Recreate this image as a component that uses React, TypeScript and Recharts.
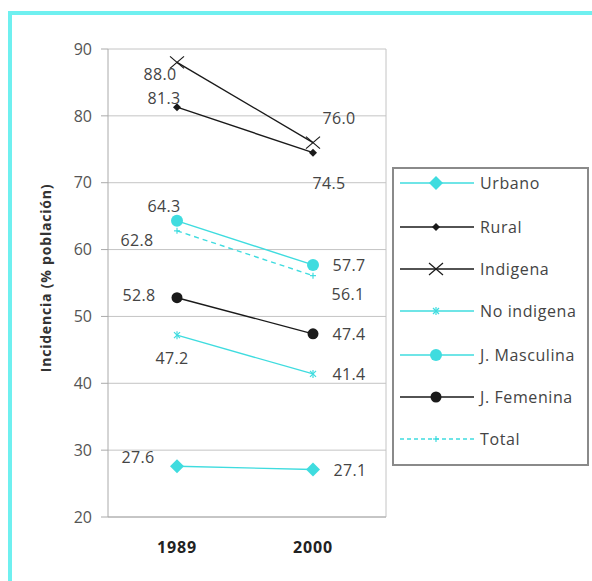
import { LineChart, Line, XAxis, YAxis, CartesianGrid, LabelList } from "recharts"

const years = ["1989", "2000"]
const urbano = [27.6, 27.1]
const rural = [81.3, 74.5]
const indigena = [88.0, 76.0]
const noIndigena = [47.2, 41.4]
const jMasculina = [64.3, 57.7]
const jFemenina = [52.8, 47.4]
const total = [62.8, 56.1]
const yTicks = [20, 30, 40, 50, 60, 70, 80, 90]

const CYAN = "#3fdcdf"
const DARK = "#1a1a1a"
const FONT = "'Open Sans', sans-serif"

const data = years.map((year, i) => ({
  year,
  urbano: urbano[i],
  rural: rural[i],
  indigena: indigena[i],
  noIndigena: noIndigena[i],
  jMasculina: jMasculina[i],
  jFemenina: jFemenina[i],
  total: total[i],
}))

type Marker = "bigDiamond" | "smallDiamond" | "cross" | "star" | "circle" | "bigCircle" | "plus"

// label offsets (dx, dy) for 1989 and 2000, relative to the point
const series: {
  key: string
  name: string
  color: string
  marker: Marker
  dashed?: boolean
  offsets: [number, number][]
}[] = [
  { key: "urbano", name: "Urbano", color: CYAN, marker: "bigDiamond", offsets: [[-39, -9], [37, 0]] },
  { key: "rural", name: "Rural", color: DARK, marker: "smallDiamond", offsets: [[-13, -9], [16, 30]] },
  { key: "indigena", name: "Indigena", color: DARK, marker: "cross", offsets: [[-17, 12], [26, -25]] },
  { key: "noIndigena", name: "No indigena", color: CYAN, marker: "star", offsets: [[-5, 23], [36, 0]] },
  { key: "jMasculina", name: "J. Masculina", color: CYAN, marker: "circle", offsets: [[-13, -15], [36, 0]] },
  { key: "jFemenina", name: "J. Femenina", color: DARK, marker: "bigCircle", offsets: [[-38, -3], [36, 0]] },
  { key: "total", name: "Total", color: CYAN, marker: "plus", dashed: true, offsets: [[-40, 9], [35, 18]] },
]

function drawMarker(marker: Marker, color: string, cx: number, cy: number, key?: string) {
  switch (marker) {
    case "bigDiamond":
      return <polygon key={key} points={`${cx},${cy - 7} ${cx + 7},${cy} ${cx},${cy + 7} ${cx - 7},${cy}`} fill={color} />
    case "smallDiamond":
      return <polygon key={key} points={`${cx},${cy - 4} ${cx + 4},${cy} ${cx},${cy + 4} ${cx - 4},${cy}`} fill={color} />
    case "cross":
      return (
        <g key={key} stroke={color} strokeWidth={1.2}>
          <line x1={cx - 7} y1={cy - 6} x2={cx + 7} y2={cy + 6} />
          <line x1={cx - 7} y1={cy + 6} x2={cx + 7} y2={cy - 6} />
        </g>
      )
    case "star":
      return (
        <g key={key} stroke={color} strokeWidth={1.2}>
          <line x1={cx - 3} y1={cy - 3} x2={cx + 3} y2={cy + 3} />
          <line x1={cx - 3} y1={cy + 3} x2={cx + 3} y2={cy - 3} />
          <line x1={cx} y1={cy - 4} x2={cx} y2={cy + 4} />
        </g>
      )
    case "circle":
      return <circle key={key} cx={cx} cy={cy} r={6} fill={color} />
    case "bigCircle":
      return <circle key={key} cx={cx} cy={cy} r={5.5} fill={color} />
    case "plus":
      return (
        <g key={key} stroke={color} strokeWidth={1.2}>
          <line x1={cx - 3} y1={cy} x2={cx + 3} y2={cy} />
          <line x1={cx} y1={cy - 3} x2={cx} y2={cy + 3} />
        </g>
      )
  }
}

function Legend() {
  const rowY = [16, 60, 102, 144, 188, 230, 272]
  return (
    <svg
      width={197}
      height={299}
      style={{ position: "absolute", left: 392, top: 167, fontFamily: FONT }}
    >
      <rect x={1} y={1} width={195} height={297} fill="#fff" stroke="#8a8a8a" strokeWidth={2} />
      {series.map((s, i) => (
        <g key={s.key}>
          <line
            x1={8}
            x2={82}
            y1={rowY[i]}
            y2={rowY[i]}
            stroke={s.color}
            strokeWidth={1.3}
            strokeDasharray={s.dashed ? "4 3" : undefined}
          />
          {drawMarker(s.marker, s.color, 44, rowY[i])}
          <text x={88} y={rowY[i]} dominantBaseline="central" fontSize={16} letterSpacing={0.6} fill="#444">
            {s.name}
          </text>
        </g>
      ))}
    </svg>
  )
}

export default function App() {
  return (
    <div
      style={{
        position: "absolute",
        left: 0,
        top: 0,
        width: 592,
        height: 581,
        background: "#fff",
        fontFamily: FONT,
        overflow: "hidden",
      }}
    >
      <div style={{ position: "absolute", left: 8, top: 11, width: 584, height: 4, background: "#6ff0f0" }} />
      <div style={{ position: "absolute", left: 8, top: 11, width: 4, height: 570, background: "#6ff0f0" }} />

      <LineChart
        width={592}
        height={581}
        data={data}
        margin={{ top: 49, right: 206, bottom: 34, left: 48 }}
        style={{ position: "absolute", left: 0, top: 0 }}
      >
        <CartesianGrid
          stroke="#c4c4c4"
          vertical={true}
          verticalCoordinatesGenerator={({ offset }: any) => [offset.left + offset.width]}
        />
        <XAxis
          dataKey="year"
          padding={{ left: 69, right: 73 }}
          tickLine={false}
          axisLine={{ stroke: "#aaa" }}
          tick={{ fill: "#222", fontSize: 16, fontWeight: "bold", fontFamily: FONT, letterSpacing: 0.8 }}
          tickMargin={19}
          height={30}
        />
        <YAxis
          domain={[20, 90]}
          ticks={yTicks}
          width={60}
          axisLine={{ stroke: "#aaa" }}
          tickLine={{ stroke: "#aaa" }}
          tickSize={7}
          tickMargin={9}
          tick={{ fill: "#555", fontSize: 16, fontFamily: FONT }}
        />
        {series.map((s) => (
          <Line
            key={s.key}
            dataKey={s.key}
            name={s.name}
            stroke={s.color}
            strokeWidth={1.4}
            strokeDasharray={s.dashed ? "5 4" : undefined}
            isAnimationActive={false}
            dot={(p: any) => drawMarker(s.marker, s.color, p.cx, p.cy, `${s.key}-${p.index}`)}
            activeDot={false}
          >
            <LabelList
              dataKey={s.key}
              content={(p: any) => {
                const [dx, dy] = s.offsets[p.index] || [0, 0]
                return (
                  <text
                    x={p.x + dx}
                    y={p.y + dy}
                    textAnchor="middle"
                    dominantBaseline="central"
                    fontSize={16}
                    letterSpacing={0.4}
                    fill="#444"
                    fontFamily={FONT}
                  >
                    {Number(p.value).toFixed(1)}
                  </text>
                )
              }}
            />
          </Line>
        ))}
      </LineChart>

      <svg width={80} height={400} style={{ position: "absolute", left: 0, top: 80 }}>
        <text
          x={45}
          y={198}
          transform="rotate(-90 45 198)"
          textAnchor="middle"
          dominantBaseline="central"
          fontSize={14}
          fontWeight="bold"
          letterSpacing={0.8}
          fill="#333"
          fontFamily={FONT}
        >
          Incidencia (% población)
        </text>
      </svg>

      <Legend />
    </div>
  )
}
